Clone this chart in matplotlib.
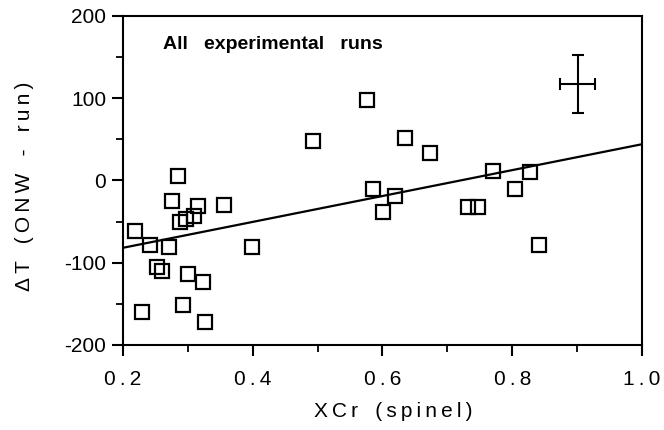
import matplotlib
matplotlib.use("Agg")
import matplotlib.pyplot as plt
from matplotlib.ticker import MultipleLocator, FuncFormatter

plt.rcParams['font.family'] = ['Liberation Sans', 'DejaVu Sans']
plt.rcParams['axes.unicode_minus'] = False

# experimental runs
xcr = [0.218, 0.229, 0.242, 0.252, 0.260, 0.271, 0.275, 0.285, 0.288, 0.293,
       0.297, 0.300, 0.309, 0.316, 0.323, 0.326, 0.356, 0.399, 0.493, 0.576,
       0.585, 0.601, 0.619, 0.635, 0.673, 0.732, 0.747, 0.770, 0.804, 0.827,
       0.841]
dT = [-61, -160, -79, -105, -110, -81, -25, 5, -50, -151,
      -47, -114, -43, -31, -123, -172, -30, -81, 48, 98,
      -10, -38, -19, 52, 33, -32, -32, 11, -10, 10,
      -79]

# regression line end points
fit_x = [0.2, 1.0]
fit_y = [-82, 44]

# representative error bar
err_x, err_y = 0.901, 117
err_dx, err_dy = 0.027, 35

TS = '\u2009'  # thin space, used to mimic the loose letter spacing


def spaced(s):
    return TS.join(s)


fig = plt.figure(figsize=(6.64, 4.30), dpi=100)
ax = fig.add_axes([0.185, 0.198, 0.782, 0.765])

ax.plot(fit_x, fit_y, color='black', lw=1.6)
ax.plot(xcr, dT, linestyle='none', marker='s', markersize=10.5,
        markerfacecolor='none', markeredgecolor='black', markeredgewidth=1.6)
ax.errorbar(err_x, err_y, xerr=err_dx, yerr=err_dy, fmt='none',
            ecolor='black', elinewidth=1.5, capsize=4, capthick=1.5)

ax.text(0.262, 165, 'All   experimental   runs', fontsize=14, fontweight='bold',
        va='center', ha='left')

ax.set_xlim(0.2, 1.0)
ax.set_ylim(-200, 200)
ax.xaxis.set_major_locator(MultipleLocator(0.2))
ax.xaxis.set_minor_locator(MultipleLocator(0.1))
ax.xaxis.set_major_formatter(FuncFormatter(lambda v, p: spaced('%.1f' % v)))
ax.yaxis.set_major_locator(MultipleLocator(100))
ax.yaxis.set_minor_locator(MultipleLocator(50))
ax.yaxis.set_major_formatter(FuncFormatter(lambda v, p: '%d' % v))

for s in ax.spines.values():
    s.set_linewidth(1.5)

ax.tick_params(which='major', direction='out', length=8, width=1.5,
               labelsize=15, top=False, right=False)
ax.tick_params(axis='x', which='major', pad=10)
ax.tick_params(axis='y', which='major', pad=4)
ax.tick_params(which='minor', direction='out', length=5, width=1.3,
               top=False, right=False)

ax.set_xlabel(spaced('XCr') + '   ' + spaced('(spinel)'), fontsize=15)
ax.xaxis.set_label_coords(0.52, -0.175)
ax.set_ylabel(spaced('ΔT') + '   ' + spaced('(ONW') + '   -   ' + spaced('run)'),
              fontsize=15)
ax.yaxis.set_label_coords(-0.172, 0.483)

plt.savefig('out.png', dpi=100)
